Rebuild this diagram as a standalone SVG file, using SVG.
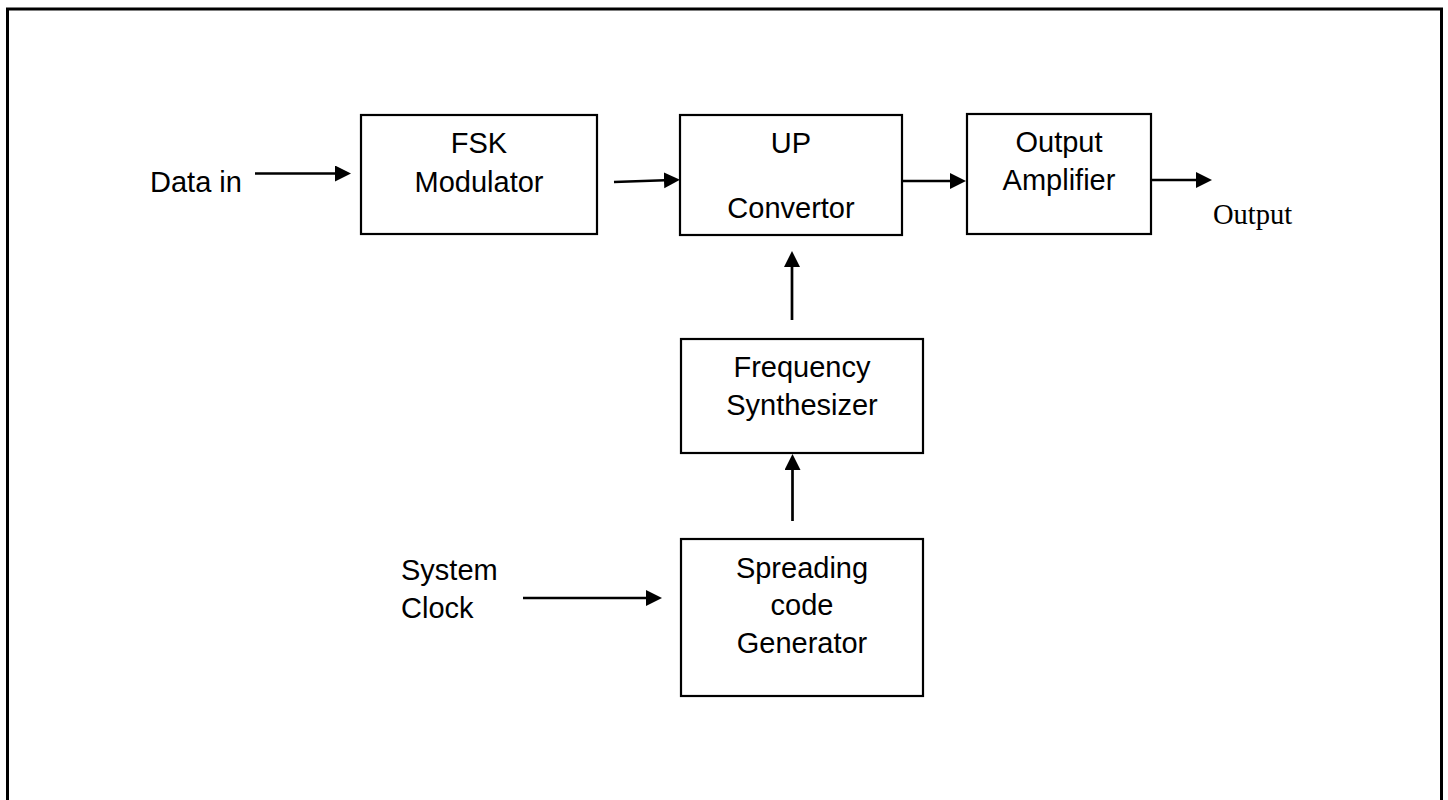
<svg xmlns="http://www.w3.org/2000/svg" width="1448" height="800" viewBox="0 0 1448 800">
  <style>
    .frame { fill: none; stroke: #000; stroke-width: 3; }
    .box { fill: #fff; stroke: #000; stroke-width: 2.2; }
    .lbl { font-family: "Liberation Sans", Arial, sans-serif; font-size: 29px; fill: #000; }
    .mid { text-anchor: middle; }
    .serif { font-family: "Liberation Serif", "Times New Roman", serif; font-size: 28.5px; fill: #000; }
    .wire { fill: none; stroke: #000; stroke-width: 2.7; marker-end: url(#head); }
  </style>
  <defs>
    <!-- filled arrowhead; tip sits 8px beyond the end of the line -->
    <marker id="head" markerUnits="userSpaceOnUse" markerWidth="18" markerHeight="18" refX="8" refY="8" orient="auto">
      <path d="M0,0 L16,8 L0,16 z" fill="#000"/>
    </marker>
  </defs>

  <rect width="1448" height="800" fill="#fff"/>
  <rect class="frame" x="7.5" y="9" width="1434" height="820"/>

  <g id="fsk-modulator">
    <rect class="box" x="361" y="115" width="236" height="119"/>
    <text class="lbl mid" x="479" y="153">FSK</text>
    <text class="lbl mid" x="479" y="192">Modulator</text>
  </g>

  <g id="up-convertor">
    <rect class="box" x="680" y="115" width="222" height="120"/>
    <text class="lbl mid" x="791" y="153">UP</text>
    <text class="lbl mid" x="791" y="218">Convertor</text>
  </g>

  <g id="output-amplifier">
    <rect class="box" x="967" y="114" width="184" height="120"/>
    <text class="lbl mid" x="1059" y="152">Output</text>
    <text class="lbl mid" x="1059" y="190">Amplifier</text>
  </g>

  <g id="frequency-synthesizer">
    <rect class="box" x="681" y="339" width="242" height="114"/>
    <text class="lbl mid" x="802" y="377">Frequency</text>
    <text class="lbl mid" x="802" y="415">Synthesizer</text>
  </g>

  <g id="spreading-code-generator">
    <rect class="box" x="681" y="539" width="242" height="157"/>
    <text class="lbl mid" x="802" y="578">Spreading</text>
    <text class="lbl mid" x="802" y="615">code</text>
    <text class="lbl mid" x="802" y="653">Generator</text>
  </g>

  <g id="data-in">
    <text class="lbl" x="150" y="192">Data in</text>
  </g>

  <g id="system-clock">
    <text class="lbl" x="401" y="580">System</text>
    <text class="lbl" x="401" y="618">Clock</text>
  </g>

  <g id="output">
    <text class="serif" x="1213" y="224">Output</text>
  </g>

  <g id="connectors">
    <line class="wire" x1="255" y1="173.5" x2="343" y2="173.5"/>
    <line class="wire" x1="614" y1="182" x2="672" y2="180"/>
    <line class="wire" x1="903" y1="181" x2="958" y2="181"/>
    <line class="wire" x1="1152" y1="180" x2="1204" y2="180"/>
    <line class="wire" x1="792" y1="320" x2="792" y2="259"/>
    <line class="wire" x1="792.5" y1="521" x2="792.5" y2="462"/>
    <line class="wire" x1="523" y1="598" x2="654" y2="598"/>
  </g>
</svg>
